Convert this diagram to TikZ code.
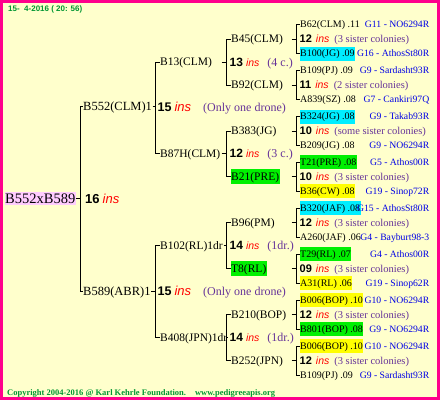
\documentclass[tikz,border=0pt]{standalone}
\usepackage{fontspec}
\setmainfont{Liberation Serif}
\newfontfamily\sansf{Liberation Sans}
\newcommand\fs[1]{\fontsize{#1}{#1}\selectfont}
\definecolor{bgy}{RGB}{255,255,204}
\definecolor{brd}{RGB}{255,0,140}
\definecolor{pinkh}{RGB}{255,204,255}
\definecolor{cyanh}{RGB}{0,238,255}
\definecolor{greenh}{RGB}{0,240,0}
\definecolor{yellowh}{RGB}{255,255,0}
\definecolor{insred}{RGB}{255,0,0}
\definecolor{purp}{RGB}{102,51,153}
\definecolor{gblue}{RGB}{0,0,230}
\definecolor{tgreen}{RGB}{0,150,50}
\newcommand\cnt[7]{{\sansf\bfseries\fs{#1}#2}\hspace{#3}{\sansf\itshape\fs{#4}\color{insred}ins}\hspace{#5}{\fs{#6}\color{purp}#7}}
\tikzset{
  lnk/.style={line width=1pt, draw=black},
  rootn/.style={anchor=west, font=\fs{14.5}, fill=pinkh, text height=11.1pt, text depth=1.5pt, inner xsep=0.5pt, inner ysep=0.3pt},
  nmA/.style={anchor=west, font=\fs{12.5}, text height=10.8pt, text depth=2.5pt, inner xsep=0.5pt, inner ysep=1pt},
  nm/.style={anchor=west, font=\fs{11.5}, text height=10.1pt, text depth=2.5pt, inner xsep=0.5pt, inner ysep=1.2pt},
  rn/.style={anchor=west, font=\fs{10}, text height=9.1pt, text depth=2.5pt, inner xsep=0.5pt, inner ysep=1.2pt},
  gc/.style={anchor=east, font=\fs{9.7}, text=gblue, text height=8.9pt, text depth=2.5pt, inner sep=0pt},
  cA/.style={anchor=west, text height=11pt, text depth=1.7pt, inner sep=0pt},
  cB/.style={anchor=west, text height=10pt, text depth=1.4pt, inner sep=0pt},
  cC/.style={anchor=west, text height=9pt, text depth=1.1pt, inner sep=0pt},
  hc/.style={fill=cyanh}, hg/.style={fill=greenh}, hy/.style={fill=yellowh},
  ttl/.style={anchor=west, text=tgreen, inner sep=0pt}
}
\newcommand\rrow[5]{\node[rn,#3] (#1) at (299.5,#2) {#4}; \node[gc] (#1g) at (429.5,#2) {#5};}
\newcommand\rmid[4]{\node[cC] (#1) at (299.5,#2) {\cnt{11}{#3}{4pt}{10.5}{5pt}{10.5}{#4}};}
\newcommand\brk[3]{\draw[lnk] (#1.west) -- (#1.west -| #3) -- (#2.west -| #3) -- (#2.west);}
\newcommand\dsh[2]{\draw[lnk] (#1.east -| #2) ++(-4.5,0) -- (#1.east -| #2);}
\begin{document}
\begin{tikzpicture}[x=1pt,y=-1pt]
\useasboundingbox (0,0) rectangle (440,400);
\fill[bgy] (0,0) rectangle (440,400);
\fill[brd] (0,0) rectangle (440,2.5);
\fill[brd] (0,0) rectangle (3.3,400);
\fill[brd] (436.7,0) rectangle (440,400);
\fill[brd] (0,396.7) rectangle (440,400);
\node[ttl, font=\sansf\bfseries\fs{8}] (title) at (8,9) {15-\ \ 4-2016 ( 20: 56)};
\node[ttl, font=\bfseries\fs{8.5}] (copy) at (7,393) {Copyright 2004-2016 @ Karl Kehrle Foundation.\hspace{9pt}www.pedigreeapis.org};
\coordinate (v0) at (80,0);
\coordinate (v1) at (155,0);
\coordinate (v2) at (226,0);
\coordinate (v3) at (296,0);
% root
\node[rootn] (root) at (4.5,198.5) {B552xB589};
\node[cA] (rootc) at (85,198.5) {\cnt{13}{16}{3pt}{13}{0pt}{12}{}};
% level 1
\node[nmA] (n1) at (82.5,106.5) {B552(CLM)1};
\node[nmA] (n2) at (82.5,291) {B589(ABR)1};
\node[cA] (n1c) at (157.5,106.5) {\cnt{12.5}{15}{3pt}{13}{12pt}{12}{(Only one drone)}};
\node[cA] (n2c) at (157.5,291) {\cnt{12.5}{15}{3pt}{13}{12pt}{12}{(Only one drone)}};
% level 2
\node[nm] (l1) at (159.5,62) {B13(CLM)};
\node[nm] (l2) at (159.5,153.5) {B87H(CLM)};
\node[nm] (l3) at (159.5,245.5) {B102(RL)1dr};
\node[nm] (l4) at (159.5,337.5) {B408(JPN)1dr};
\node[cB] (l1c) at (229.5,62) {\cnt{12}{13}{3pt}{10.5}{8pt}{12}{(4 c.)}};
\node[cB] (l2c) at (229.5,153.5) {\cnt{12}{12}{3pt}{10.5}{8pt}{12}{(3 c.)}};
\node[cB] (l3c) at (229.5,245.5) {\cnt{12}{14}{3pt}{10.5}{8pt}{12}{(1dr.)}};
\node[cB] (l4c) at (229.5,337.5) {\cnt{12}{14}{3pt}{10.5}{8pt}{12}{(1dr.)}};
% level 3
\node[nm] (m1) at (230.5,39) {B45(CLM)};
\node[nm] (m2) at (230.5,85) {B92(CLM)};
\node[nm] (m3) at (230.5,131) {B383(JG)};
\node[nm,hg] (m4) at (230.5,176.5) {B21(PRE)};
\node[nm] (m5) at (230.5,222.5) {B96(PM)};
\node[nm,hg] (m6) at (230.5,268.5) {T8(RL)};
\node[nm] (m7) at (230.5,314.5) {B210(BOP)};
\node[nm] (m8) at (230.5,360.5) {B252(JPN)};
% right column
\rrow{a1}{24.5}{}{B62(CLM) .11}{G11 - NO6294R}
\rmid{a2}{39}{12}{(3 sister colonies)}
\rrow{a3}{53.5}{hc}{B100(JG) .09}{G16 - AthosSt80R}
\rrow{b1}{70.5}{}{B109(PJ) .09}{G9 - Sardasht93R}
\rmid{b2}{85}{11}{(2 sister colonies)}
\rrow{b3}{99.5}{}{A839(SZ) .08}{G7 - Cankiri97Q}
\rrow{c1}{116.5}{hc}{B324(JG) .08}{G9 - Takab93R}
\rmid{c2}{131}{10}{(some sister colonies)}
\rrow{c3}{145.5}{}{B209(JG) .08}{G9 - NO6294R}
\rrow{d1}{162}{hg}{T21(PRE) .08}{G5 - Athos00R}
\rmid{d2}{176.5}{10}{(3 sister colonies)}
\rrow{d3}{191}{hy}{B36(CW) .08}{G19 - Sinop72R}
\rrow{e1}{208}{hc}{B320(JAF) .08}{G15 - AthosSt80R}
\rmid{e2}{222.5}{12}{(3 sister colonies)}
\rrow{e3}{237}{}{A260(JAF) .06}{G4 - Bayburt98-3}
\rrow{f1}{254}{hg}{T29(RL) .07}{G4 - Athos00R}
\rmid{f2}{268.5}{09}{(3 sister colonies)}
\rrow{f3}{283}{hy}{A31(RL) .06}{G19 - Sinop62R}
\rrow{g1}{300}{hy}{B006(BOP) .10}{G10 - NO6294R}
\rmid{g2}{314.5}{12}{(3 sister colonies)}
\rrow{g3}{329}{hg}{B801(BOP) .08}{G9 - NO6294R}
\rrow{h1}{346}{hy}{B006(BOP) .10}{G10 - NO6294R}
\rmid{h2}{360.5}{12}{(3 sister colonies)}
\rrow{h3}{375}{}{B109(PJ) .09}{G9 - Sardasht93R}
% connectors
\brk{n1}{n2}{v0}
\draw[lnk] (root.east) -- (root.east -| v0);
\brk{l1}{l2}{v1}
\brk{l3}{l4}{v1}
\draw[lnk] (n1.east) -- (n1.east -| v1);
\draw[lnk] (n2.east) -- (n2.east -| v1);
\brk{m1}{m2}{v2} \dsh{l1}{v2}
\brk{m3}{m4}{v2} \dsh{l2}{v2}
\brk{m5}{m6}{v2} \draw[lnk] (l3.east) -- (l3.east -| v2);
\brk{m7}{m8}{v2} \draw[lnk] (l4.east) -- (l4.east -| v2);
\brk{a1}{a3}{v3} \dsh{m1}{v3}
\brk{b1}{b3}{v3} \dsh{m2}{v3}
\brk{c1}{c3}{v3} \dsh{m3}{v3}
\brk{d1}{d3}{v3} \dsh{m4}{v3}
\brk{e1}{e3}{v3} \dsh{m5}{v3}
\brk{f1}{f3}{v3} \dsh{m6}{v3}
\brk{g1}{g3}{v3} \dsh{m7}{v3}
\brk{h1}{h3}{v3} \dsh{m8}{v3}
\end{tikzpicture}
\end{document}
